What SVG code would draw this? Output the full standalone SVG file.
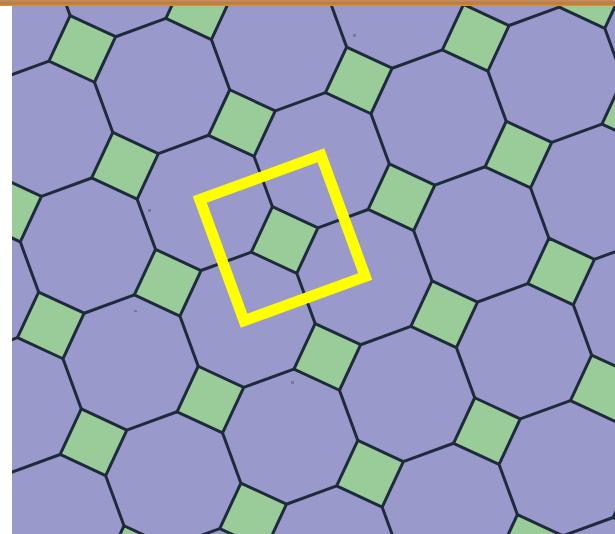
<svg xmlns="http://www.w3.org/2000/svg" xmlns:xlink="http://www.w3.org/1999/xlink" width="615" height="534" viewBox="0 0 615 534">
<style>
.sq{fill:#99cc99;stroke:none}
.edge{fill:none;stroke:#1e2b3b;stroke-width:3;stroke-linejoin:round;stroke-linecap:round}
.dot{fill:#6f7f8f}
</style>
<defs>
<clipPath id="area"><rect x="12" y="0" width="603" height="534"/></clipPath>
<polygon id="sqf" class="sq" points="33.35,-12.18 12.18,33.35 -33.35,12.18 -12.18,-33.35"/>
<path id="ln" class="edge" d="M-12.18,-33.35 L33.35,-12.18 L12.18,33.35 L-33.35,12.18 Z M33.35,-12.18 L83.55,-30.52 M12.18,33.35 L30.52,83.55"/>
<linearGradient id="bar" x1="0" y1="0" x2="0" y2="1">
<stop offset="0" stop-color="#c4905e"/>
<stop offset="0.5" stop-color="#b97b47"/>
<stop offset="0.8" stop-color="#c8843c"/>
<stop offset="1" stop-color="#e0962c"/>
</linearGradient>
</defs>
<rect x="0" y="0" width="615" height="534" fill="#ffffff"/>
<g id="tiling" clip-path="url(#area)">
<rect id="octagons" x="12" y="0" width="603" height="534" fill="#9999cc"/>
<g id="squares">
<use xlink:href="#sqf" href="#sqf" transform="translate(39.6,-68)"/>
<use xlink:href="#sqf" href="#sqf" transform="translate(-34.6,91.6)"/>
<use xlink:href="#sqf" href="#sqf" transform="translate(82.3,48.9)"/>
<use xlink:href="#sqf" href="#sqf" transform="translate(199.2,6.2)"/>
<use xlink:href="#sqf" href="#sqf" transform="translate(316.1,-36.5)"/>
<use xlink:href="#sqf" href="#sqf" transform="translate(433,-79.2)"/>
<use xlink:href="#sqf" href="#sqf" transform="translate(8.1,208.5)"/>
<use xlink:href="#sqf" href="#sqf" transform="translate(125,165.8)"/>
<use xlink:href="#sqf" href="#sqf" transform="translate(241.9,123.1)"/>
<use xlink:href="#sqf" href="#sqf" transform="translate(358.8,80.4)"/>
<use xlink:href="#sqf" href="#sqf" transform="translate(475.7,37.7)"/>
<use xlink:href="#sqf" href="#sqf" transform="translate(592.6,-5)"/>
<use xlink:href="#sqf" href="#sqf" transform="translate(-66.1,368.1)"/>
<use xlink:href="#sqf" href="#sqf" transform="translate(50.8,325.4)"/>
<use xlink:href="#sqf" href="#sqf" transform="translate(167.7,282.7)"/>
<use xlink:href="#sqf" href="#sqf" transform="translate(284.6,240)"/>
<use xlink:href="#sqf" href="#sqf" transform="translate(401.5,197.3)"/>
<use xlink:href="#sqf" href="#sqf" transform="translate(518.4,154.6)"/>
<use xlink:href="#sqf" href="#sqf" transform="translate(635.3,111.9)"/>
<use xlink:href="#sqf" href="#sqf" transform="translate(-23.4,485)"/>
<use xlink:href="#sqf" href="#sqf" transform="translate(93.5,442.3)"/>
<use xlink:href="#sqf" href="#sqf" transform="translate(210.4,399.6)"/>
<use xlink:href="#sqf" href="#sqf" transform="translate(327.3,356.9)"/>
<use xlink:href="#sqf" href="#sqf" transform="translate(444.2,314.2)"/>
<use xlink:href="#sqf" href="#sqf" transform="translate(561.1,271.5)"/>
<use xlink:href="#sqf" href="#sqf" transform="translate(136.2,559.1)"/>
<use xlink:href="#sqf" href="#sqf" transform="translate(253.1,516.4)"/>
<use xlink:href="#sqf" href="#sqf" transform="translate(370,473.8)"/>
<use xlink:href="#sqf" href="#sqf" transform="translate(486.9,431.1)"/>
<use xlink:href="#sqf" href="#sqf" transform="translate(603.8,388.4)"/>
<use xlink:href="#sqf" href="#sqf" transform="translate(529.6,548)"/>
<use xlink:href="#sqf" href="#sqf" transform="translate(646.5,505.3)"/>
</g>
<g id="dots">
<rect class="dot" x="353" y="34" width="3" height="3"/>
<rect class="dot" x="148" y="209" width="3" height="3"/>
<rect class="dot" x="134" y="310" width="3" height="2"/>
<rect class="dot" x="291" y="381" width="3" height="3"/>
</g>
<g id="connectors">
<use xlink:href="#ln" href="#ln" transform="translate(39.6,-68)"/>
<use xlink:href="#ln" href="#ln" transform="translate(-34.6,91.6)"/>
<use xlink:href="#ln" href="#ln" transform="translate(82.3,48.9)"/>
<use xlink:href="#ln" href="#ln" transform="translate(199.2,6.2)"/>
<use xlink:href="#ln" href="#ln" transform="translate(316.1,-36.5)"/>
<use xlink:href="#ln" href="#ln" transform="translate(433,-79.2)"/>
<use xlink:href="#ln" href="#ln" transform="translate(8.1,208.5)"/>
<use xlink:href="#ln" href="#ln" transform="translate(125,165.8)"/>
<use xlink:href="#ln" href="#ln" transform="translate(241.9,123.1)"/>
<use xlink:href="#ln" href="#ln" transform="translate(358.8,80.4)"/>
<use xlink:href="#ln" href="#ln" transform="translate(475.7,37.7)"/>
<use xlink:href="#ln" href="#ln" transform="translate(592.6,-5)"/>
<use xlink:href="#ln" href="#ln" transform="translate(-66.1,368.1)"/>
<use xlink:href="#ln" href="#ln" transform="translate(50.8,325.4)"/>
<use xlink:href="#ln" href="#ln" transform="translate(167.7,282.7)"/>
<use xlink:href="#ln" href="#ln" transform="translate(284.6,240)"/>
<use xlink:href="#ln" href="#ln" transform="translate(401.5,197.3)"/>
<use xlink:href="#ln" href="#ln" transform="translate(518.4,154.6)"/>
<use xlink:href="#ln" href="#ln" transform="translate(635.3,111.9)"/>
<use xlink:href="#ln" href="#ln" transform="translate(-23.4,485)"/>
<use xlink:href="#ln" href="#ln" transform="translate(93.5,442.3)"/>
<use xlink:href="#ln" href="#ln" transform="translate(210.4,399.6)"/>
<use xlink:href="#ln" href="#ln" transform="translate(327.3,356.9)"/>
<use xlink:href="#ln" href="#ln" transform="translate(444.2,314.2)"/>
<use xlink:href="#ln" href="#ln" transform="translate(561.1,271.5)"/>
<use xlink:href="#ln" href="#ln" transform="translate(136.2,559.1)"/>
<use xlink:href="#ln" href="#ln" transform="translate(253.1,516.4)"/>
<use xlink:href="#ln" href="#ln" transform="translate(370,473.8)"/>
<use xlink:href="#ln" href="#ln" transform="translate(486.9,431.1)"/>
<use xlink:href="#ln" href="#ln" transform="translate(603.8,388.4)"/>
<use xlink:href="#ln" href="#ln" transform="translate(529.6,548)"/>
<use xlink:href="#ln" href="#ln" transform="translate(646.5,505.3)"/>
</g>
</g>
<g id="highlight">
<rect x="-64.5" y="-64.5" width="129" height="129" fill="none" stroke="#ffff00" stroke-width="11" transform="translate(282.5,238) rotate(-20.07)"/>
</g>
<rect id="topbar" x="0" y="0" width="615" height="6" fill="url(#bar)"/>
</svg>
